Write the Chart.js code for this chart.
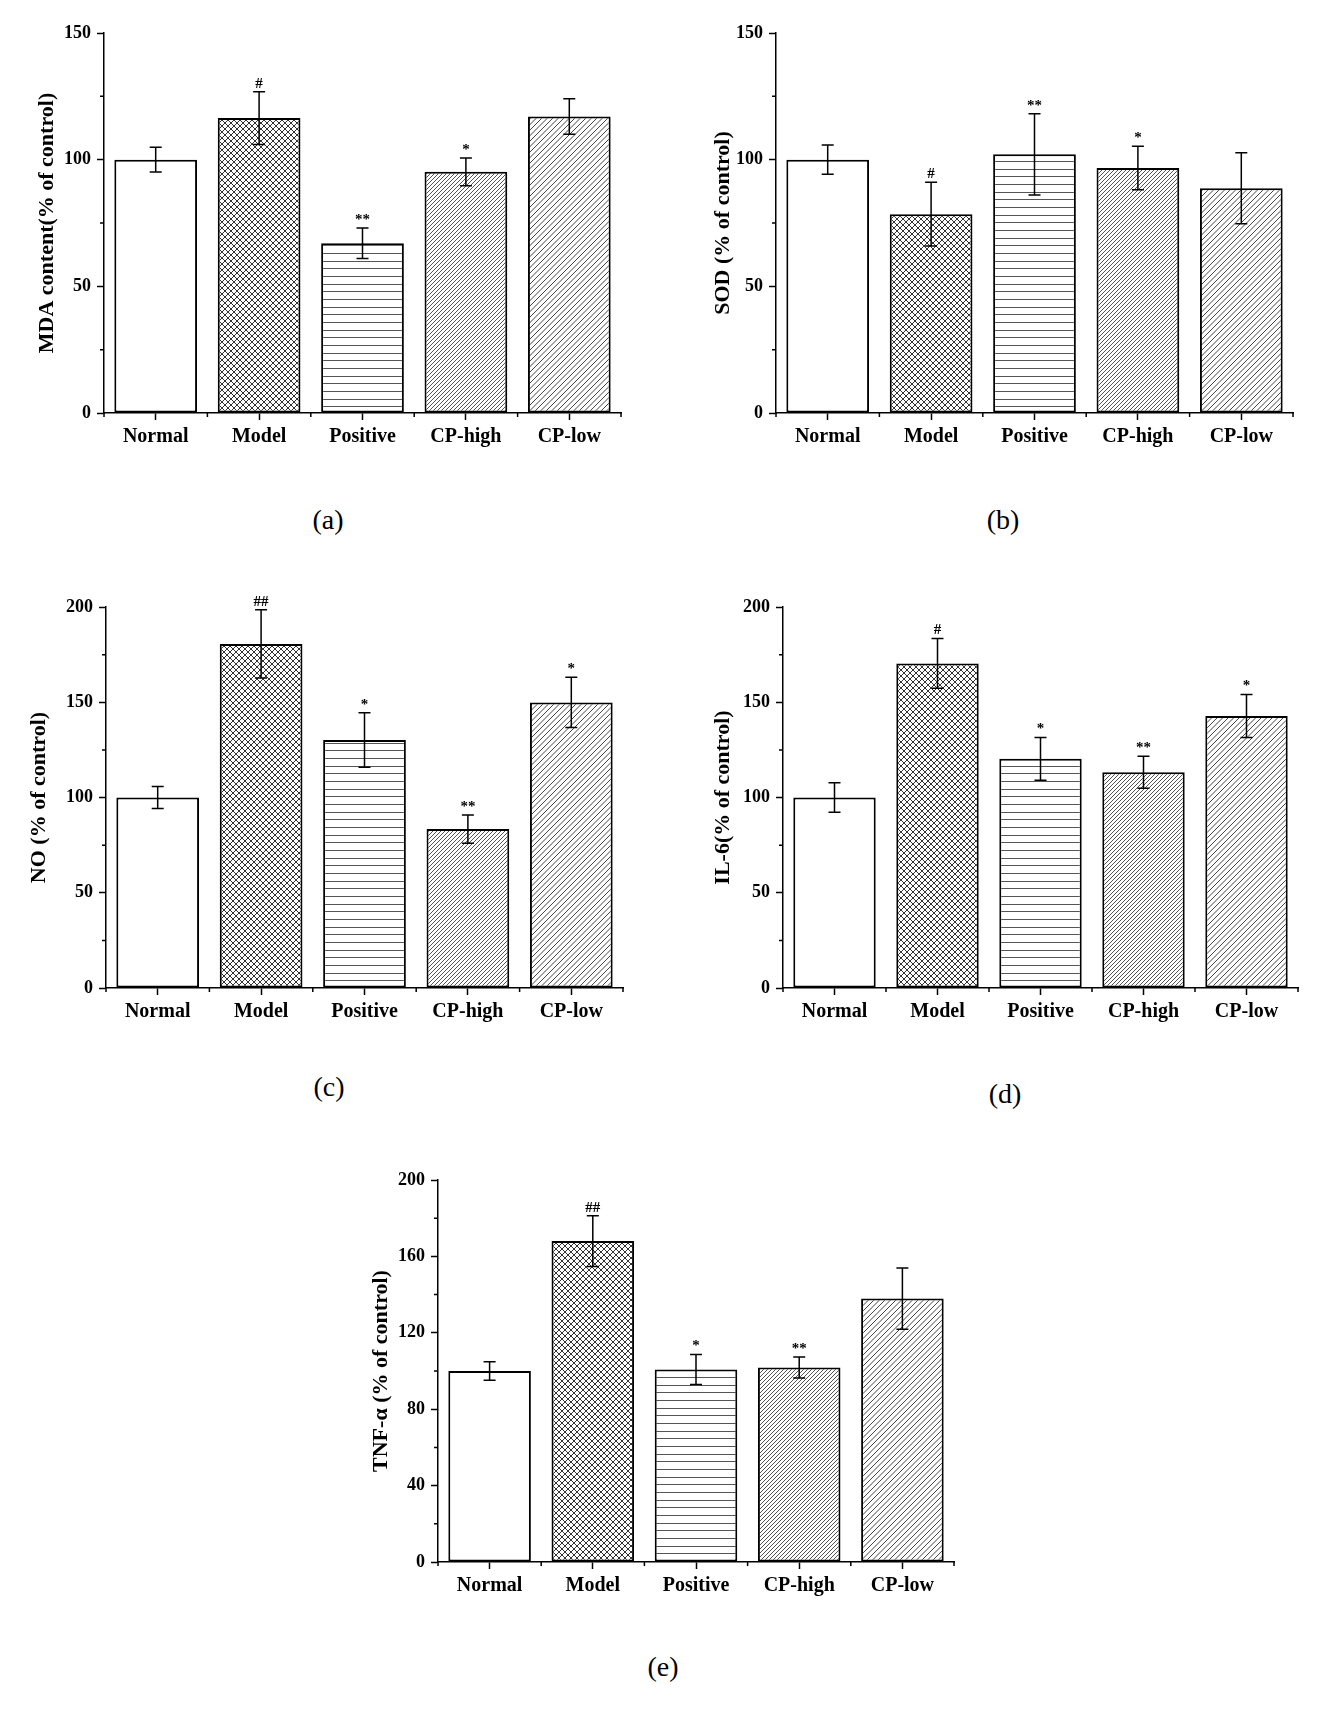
<!DOCTYPE html>
<html lang="en">
<head>
    <meta charset="UTF-8">
    <title>Oxidative and inflammatory markers</title>
    <script src="https://cdn.jsdelivr.net/npm/chart.js"></script>
    <style>
        body { margin: 0; background: #fff; }
        #page { position: relative; width: 1333px; height: 1711px; background: #fff; }
        #page canvas { position: absolute; }
        .panel-label {
            position: absolute;
            font-family: 'Liberation Serif', 'DejaVu Serif', serif;
            font-size: 28px;
            color: #000;
            transform: translate(-50%, -50%);
        }
    </style>
</head>
<body>
<div id="page">
    <canvas id="chartA"></canvas>
    <canvas id="chartB"></canvas>
    <canvas id="chartC"></canvas>
    <canvas id="chartD"></canvas>
    <canvas id="chartE"></canvas>
    <div class="panel-label" style="left:328px; top:520px;">(a)</div>
    <div class="panel-label" style="left:1003px; top:520px;">(b)</div>
    <div class="panel-label" style="left:329px; top:1087px;">(c)</div>
    <div class="panel-label" style="left:1005px; top:1094px;">(d)</div>
    <div class="panel-label" style="left:663px; top:1667px;">(e)</div>
</div>

<script>
    // Data (% of control, mean and error)
    const groups = ['Normal', 'Model', 'Positive', 'CP-high', 'CP-low'];

    const mdaMeans = [100, 116.4, 67.0, 95.2, 117.0];
    const mdaErrors = [4.9, 10.4, 6.0, 5.5, 7.0];
    const mdaMarks = ['', '#', '**', '*', ''];
    const mdaTicks = [0, 50, 100, 150];

    const sodMeans = [100, 78.5, 102.1, 96.7, 88.7];
    const sodErrors = [5.8, 12.6, 16.0, 8.6, 14.0];
    const sodMarks = ['', '#', '**', '*', ''];
    const sodTicks = [0, 50, 100, 150];

    const noMeans = [100, 180.6, 130.2, 83.4, 149.9];
    const noErrors = [5.8, 17.9, 14.3, 7.4, 13.2];
    const noMarks = ['', '##', '*', '**', '*'];
    const noTicks = [0, 50, 100, 150, 200];

    const il6Means = [100, 170.4, 120.3, 113.2, 142.8];
    const il6Errors = [7.8, 13.1, 11.2, 8.4, 11.3];
    const il6Marks = ['', '#', '*', '**', '*'];
    const il6Ticks = [0, 50, 100, 150, 200];

    const tnfMeans = [100, 168.0, 100.8, 101.8, 137.9];
    const tnfErrors = [4.9, 13.3, 7.9, 5.5, 16.0];
    const tnfMarks = ['', '##', '*', '**', ''];
    const tnfTicks = [0, 40, 80, 120, 160, 200];

    const FONT = "'Liberation Serif', 'Times New Roman', serif";
    const AXIS_W = 104;   // room left of the plot for ticks + title
    const PAD_TOP = 33;
    const PAD_RIGHT = 12;
    const X_AXIS_H = 50;
    const TITLE_SIZE = 22;

    // Fill patterns
    function makePattern(w, h, draw) {
        const c = document.createElement('canvas');
        c.width = w; c.height = h;
        const g = c.getContext('2d');
        g.fillStyle = '#fff';
        g.fillRect(0, 0, w, h);
        draw(g, w, h);
        return g.createPattern(c, 'repeat');
    }

    function diagonal(g, s, offsets) {
        offsets.forEach(o => {
            for (let k = -1; k <= 1; k++) {
                g.beginPath();
                g.moveTo(o + k * s - 1, s + 1);
                g.lineTo(o + k * s + s + 1, -1);
                g.stroke();
            }
        });
    }

    const crossFill = makePattern(6, 6, (g, w, h) => {
        g.strokeStyle = '#333';
        g.lineWidth = 1;
        for (let k = -1; k <= 1; k++) {
            g.beginPath(); g.moveTo(k * w, 0); g.lineTo(k * w + w, h); g.stroke();
            g.beginPath(); g.moveTo(k * w, h); g.lineTo(k * w + w, 0); g.stroke();
        }
    });

    const horizFill = makePattern(8, 23, (g, w) => {
        g.strokeStyle = '#555';
        g.lineWidth = 1;
        [0.5, 8.5, 15.5].forEach(y => {
            g.beginPath(); g.moveTo(0, y); g.lineTo(w, y); g.stroke();
        });
    });

    const denseFill = makePattern(4, 4, (g) => {
        g.strokeStyle = '#555';
        g.lineWidth = 1;
        diagonal(g, 4, [0]);
    });

    const sparseFill = makePattern(11, 11, (g) => {
        g.strokeStyle = '#444';
        g.lineWidth = 1;
        diagonal(g, 11, [0, 5.5]);
    });

    const barFills = ['#ffffff', crossFill, horizFill, denseFill, sparseFill];

    // Error bars and significance marks
    const errorBars = {
        id: 'errorBars',
        afterDatasetsDraw(chart, args, opts) {
            const { ctx } = chart;
            const y = chart.scales.y;
            const values = chart.data.datasets[0].data;
            const meta = chart.getDatasetMeta(0);
            ctx.save();
            ctx.strokeStyle = '#000';
            ctx.lineWidth = 1.5;
            ctx.fillStyle = '#000';
            ctx.font = 'bold 15px ' + FONT;
            ctx.textAlign = 'center';
            ctx.textBaseline = 'alphabetic';
            meta.data.forEach((bar, i) => {
                const top = y.getPixelForValue(values[i] + opts.errors[i]);
                const bot = y.getPixelForValue(values[i] - opts.errors[i]);
                ctx.beginPath();
                ctx.moveTo(bar.x, top); ctx.lineTo(bar.x, bot);
                ctx.moveTo(bar.x - 6, top); ctx.lineTo(bar.x + 6, top);
                ctx.moveTo(bar.x - 6, bot); ctx.lineTo(bar.x + 6, bot);
                ctx.stroke();
                if (opts.marks[i]) ctx.fillText(opts.marks[i], bar.x, top - 4);
            });
            ctx.restore();
        }
    };

    // Short minor ticks between the labelled ones
    const minorTicks = {
        id: 'minorTicks',
        afterDraw(chart) {
            const { ctx, chartArea } = chart;
            const x = chart.scales.x;
            const y = chart.scales.y;
            ctx.save();
            ctx.strokeStyle = '#000';
            ctx.lineWidth = 1.5;
            ctx.beginPath();
            for (let i = 0; i < y.ticks.length - 1; i++) {
                const py = y.getPixelForValue((y.ticks[i].value + y.ticks[i + 1].value) / 2);
                ctx.moveTo(chartArea.left - 4, py);
                ctx.lineTo(chartArea.left, py);
            }
            for (let i = 0; i <= groups.length; i++) {
                const px = x.getPixelForValue(i - 0.5);
                ctx.moveTo(px, chartArea.bottom);
                ctx.lineTo(px, chartArea.bottom + 4);
            }
            ctx.stroke();
            ctx.restore();
        }
    };

    function makeChart(id, pos, means, errors, marks, ticks, yTitle, titleGap) {
        const canvas = document.getElementById(id);
        canvas.width = AXIS_W + pos.w + PAD_RIGHT;
        canvas.height = PAD_TOP + pos.h + X_AXIS_H;
        canvas.style.left = (pos.left - AXIS_W) + 'px';
        canvas.style.top = (pos.top - PAD_TOP) + 'px';

        return new Chart(canvas, {
            type: 'bar',
            data: {
                labels: groups,
                datasets: [{
                    data: means,
                    backgroundColor: barFills,
                    borderColor: '#000',
                    borderWidth: 2,
                    borderSkipped: false,
                    categoryPercentage: 0.8,
                    barPercentage: 1.0
                }]
            },
            options: {
                responsive: false,
                animation: false,
                devicePixelRatio: 1,
                layout: { padding: { left: 0, top: PAD_TOP, right: PAD_RIGHT, bottom: 0 } },
                plugins: {
                    legend: { display: false },
                    tooltip: { enabled: false },
                    errorBars: { errors, marks }
                },
                scales: {
                    x: {
                        afterFit: s => { s.height = X_AXIS_H; },
                        grid: { offset: false, drawOnChartArea: false, tickLength: 7, tickColor: '#000', tickWidth: 1.5 },
                        border: { color: '#000', width: 1.5 },
                        ticks: { color: '#000', padding: 5, font: { family: FONT, size: 20, weight: 'bold' } }
                    },
                    y: {
                        min: ticks[0],
                        max: ticks[ticks.length - 1],
                        afterBuildTicks: s => { s.ticks = ticks.map(v => ({ value: v })); },
                        afterFit: s => { s.width = AXIS_W; },
                        grid: { drawOnChartArea: false, tickLength: 7, tickColor: '#000', tickWidth: 1.5 },
                        border: { color: '#000', width: 1.5 },
                        ticks: { color: '#000', padding: 6, font: { family: FONT, size: 18, weight: 'bold' } },
                        title: {
                            display: true,
                            text: yTitle,
                            color: '#000',
                            font: { family: FONT, size: TITLE_SIZE, weight: 'bold', lineHeight: 1 },
                            padding: { top: AXIS_W - titleGap - TITLE_SIZE / 2, bottom: 0 }
                        }
                    }
                }
            },
            plugins: [errorBars, minorTicks]
        });
    }

    makeChart('chartA', { left: 104, top: 33, w: 517, h: 380 }, mdaMeans, mdaErrors, mdaMarks, mdaTicks, 'MDA content(% of control)', 57);
    makeChart('chartB', { left: 776, top: 33, w: 517, h: 380 }, sodMeans, sodErrors, sodMarks, sodTicks, 'SOD (% of control)', 53);
    makeChart('chartC', { left: 106, top: 607, w: 517, h: 381 }, noMeans, noErrors, noMarks, noTicks, 'NO (% of control)', 67);
    makeChart('chartD', { left: 783, top: 607, w: 515, h: 381 }, il6Means, il6Errors, il6Marks, il6Ticks, 'IL-6(% of control)', 60);
    makeChart('chartE', { left: 438, top: 1180, w: 516, h: 382 }, tnfMeans, tnfErrors, tnfMarks, tnfTicks, 'TNF-α (% of control)', 57);
</script>
</body>
</html>
